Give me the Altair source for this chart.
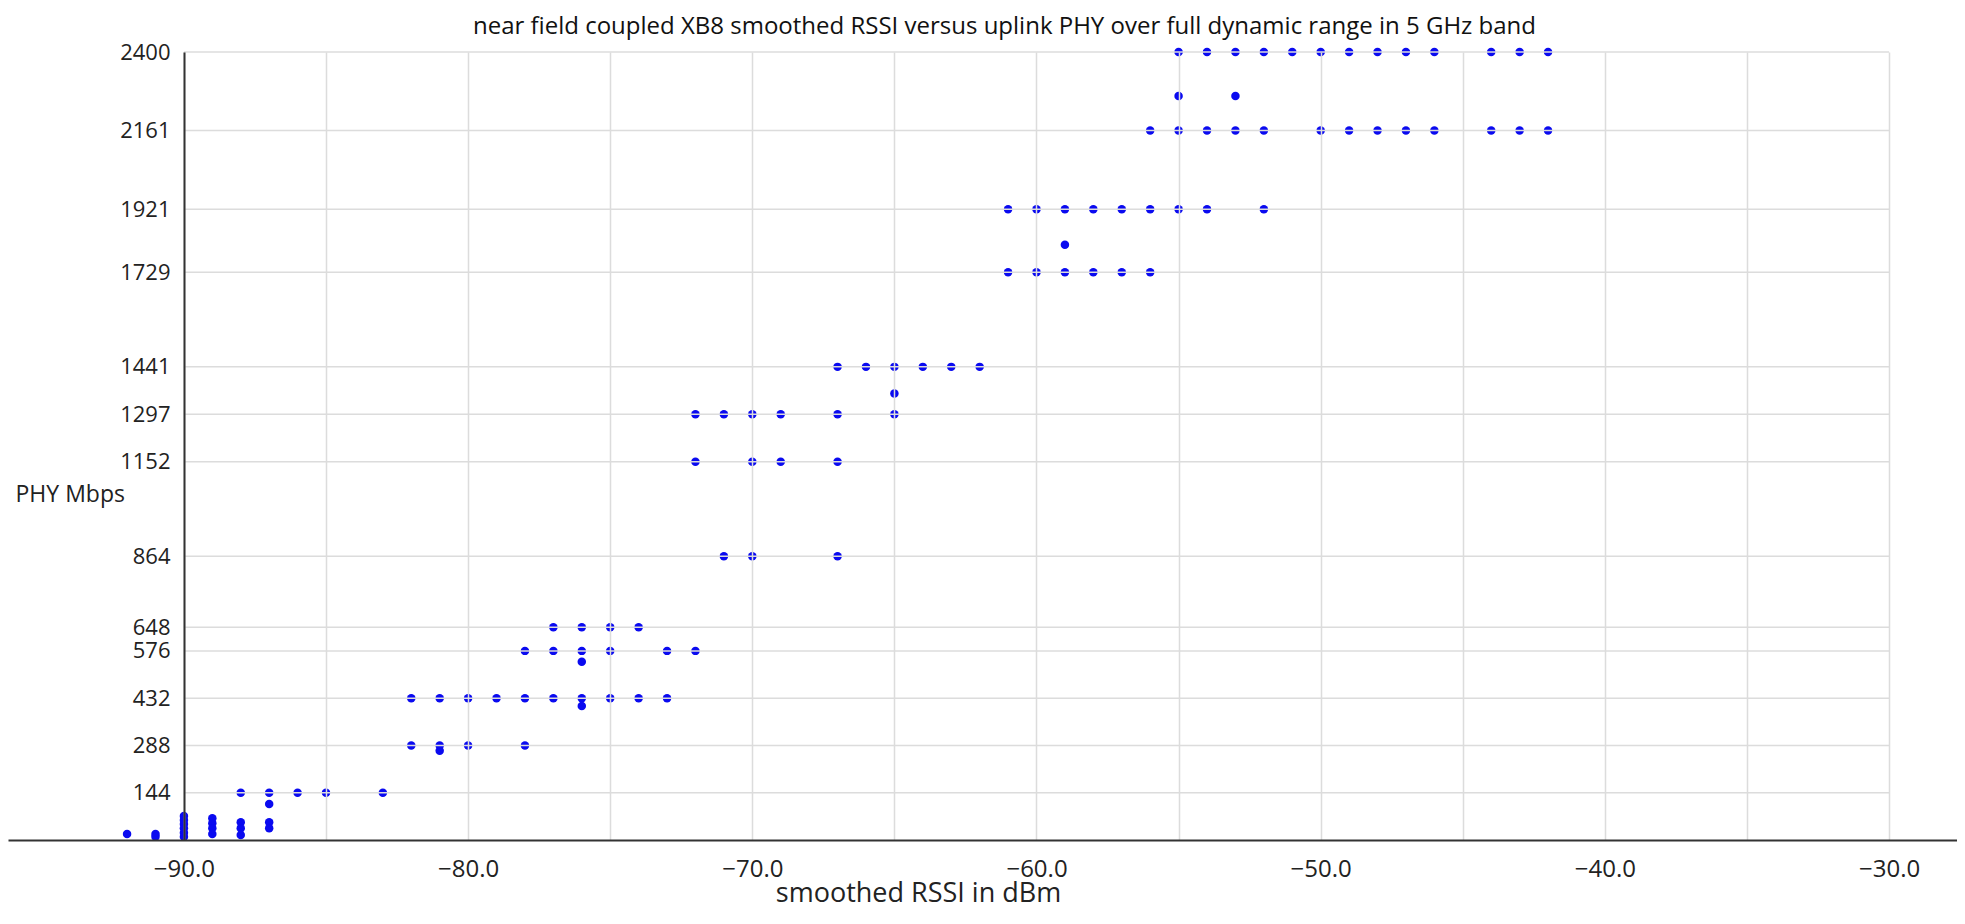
import altair as alt
import pandas as pd

# ---- data ----
rows = [
    (2400, [-55, -54, -53, -52, -51, -50, -49, -48, -47, -46, -44, -43, -42]),
    (2266, [-55, -53]),
    (2161, [-56, -55, -54, -53, -52, -50, -49, -48, -47, -46, -44, -43, -42]),
    (1921, [-61, -60, -59, -58, -57, -56, -55, -54, -52]),
    (1813, [-59]),
    (1729, [-61, -60, -59, -58, -57, -56]),
    (1441, [-67, -66, -65, -64, -63, -62]),
    (1360, [-65]),
    (1297, [-72, -71, -70, -69, -67, -65]),
    (1152, [-72, -70, -69, -67]),
    (864, [-71, -70, -67]),
    (648, [-77, -76, -75, -74]),
    (576, [-78, -77, -76, -75, -73, -72]),
    (543, [-76]),
    (432, [-82, -81, -80, -79, -78, -77, -76, -75, -74, -73]),
    (408, [-76]),
    (288, [-82, -81, -80, -78]),
    (272, [-81]),
    (144, [-88, -87, -86, -85, -83]),
    (110, [-87]),
]
low_rssi = [-87, -87, -88, -88, -88, -89, -89, -89, -89,
            -90, -90, -90, -90, -90, -90, -91, -91, -92]
low_phy = [54, 36, 54, 36, 15, 66, 51, 36, 18,
           73, 61, 49, 36, 22, 10, 18, 10, 18]

y_ticks = [144, 288, 432, 576, 648, 864, 1152, 1297, 1441, 1729, 1921, 2161, 2400]
x_grid = [-90, -85, -80, -75, -70, -65, -60, -55, -50, -45, -40, -35, -30]
x_domain = [-96.19, -27.61]
y_domain = [0, 2400]
grid_x_min, grid_x_max = -90, -30

rssi, phy = [], []
for yv, xs in rows:
    for xv in xs:
        rssi.append(xv)
        phy.append(yv)
rssi += low_rssi
phy += low_phy

pts = pd.DataFrame({"rssi": rssi, "phy": phy})
grid = pd.DataFrame({"rssi": [grid_x_min] * len(y_ticks), "phy": y_ticks,
                     "rssi2": [grid_x_max] * len(y_ticks)})

FONT = "Open Sans"
W, H = 1949, 788

xscale = alt.Scale(domain=x_domain, nice=False, zero=False)
yscale = alt.Scale(domain=y_domain, nice=False, zero=False)

xaxis = alt.Axis(values=x_grid, title="smoothed RSSI in dBm",
                 labelExpr="datum.value % 10 == 0 ? format(datum.value, '.1f') : ''",
                 grid=True, gridColor="#dcdcdc", gridWidth=1.5,
                 domainColor="#333333", domainWidth=2,
                 ticks=False, tickSize=0, labelPadding=17,
                 labelFont=FONT, labelFontSize=24, labelColor="#222222",
                 titleFont=FONT, titleFontSize=27, titleFontWeight="normal",
                 titleColor="#222222", titleX=910, titleY=61,
                 titleAlign="center", titleBaseline="alphabetic",
                 labelFlush=False, labelOverlap=False, zindex=1)
yaxis = alt.Axis(values=y_ticks, format="d", title="PHY Mbps",
                 grid=False, offset=-176,
                 domainColor="#333333", domainWidth=2,
                 ticks=False, tickSize=0, labelPadding=14,
                 labelFont=FONT, labelFontSize=22, labelColor="#222222",
                 labelBaseline="middle", labelOverlap=False, labelFlush=False,
                 titleFont=FONT, titleFontSize=23, titleFontWeight="normal",
                 titleColor="#222222", titleAngle=0, titleAlign="left",
                 titleBaseline="middle", titleX=-169, titleY=442, zindex=1)

points = alt.Chart(pts).mark_circle(size=72, color="#0a0af0", opacity=1).encode(
    x=alt.X("rssi:Q", scale=xscale, axis=xaxis),
    y=alt.Y("phy:Q", scale=yscale, axis=yaxis),
)

hgrid = alt.Chart(grid).mark_rule(color="#dcdcdc", strokeWidth=1.5).encode(
    x=alt.X("rssi:Q", scale=xscale, axis=xaxis),
    x2="rssi2:Q",
    y=alt.Y("phy:Q", scale=yscale, axis=yaxis),
)

chart = alt.layer(points, hgrid).properties(
    width=W, height=H,
    title=alt.TitleParams(
        "near field coupled XB8 smoothed RSSI versus uplink PHY over full dynamic range in 5 GHz band",
        font=FONT, fontSize=24, fontWeight=500, color="#111111",
        anchor="middle", dx=22, offset=2),
    padding={"left": 0, "top": 44, "right": 0, "bottom": 70},
    autosize=alt.AutoSizeParams(type="none"),
).configure_view(stroke=None)

chart.save("out.html", embed_options={"renderer": "svg", "actions": False})
